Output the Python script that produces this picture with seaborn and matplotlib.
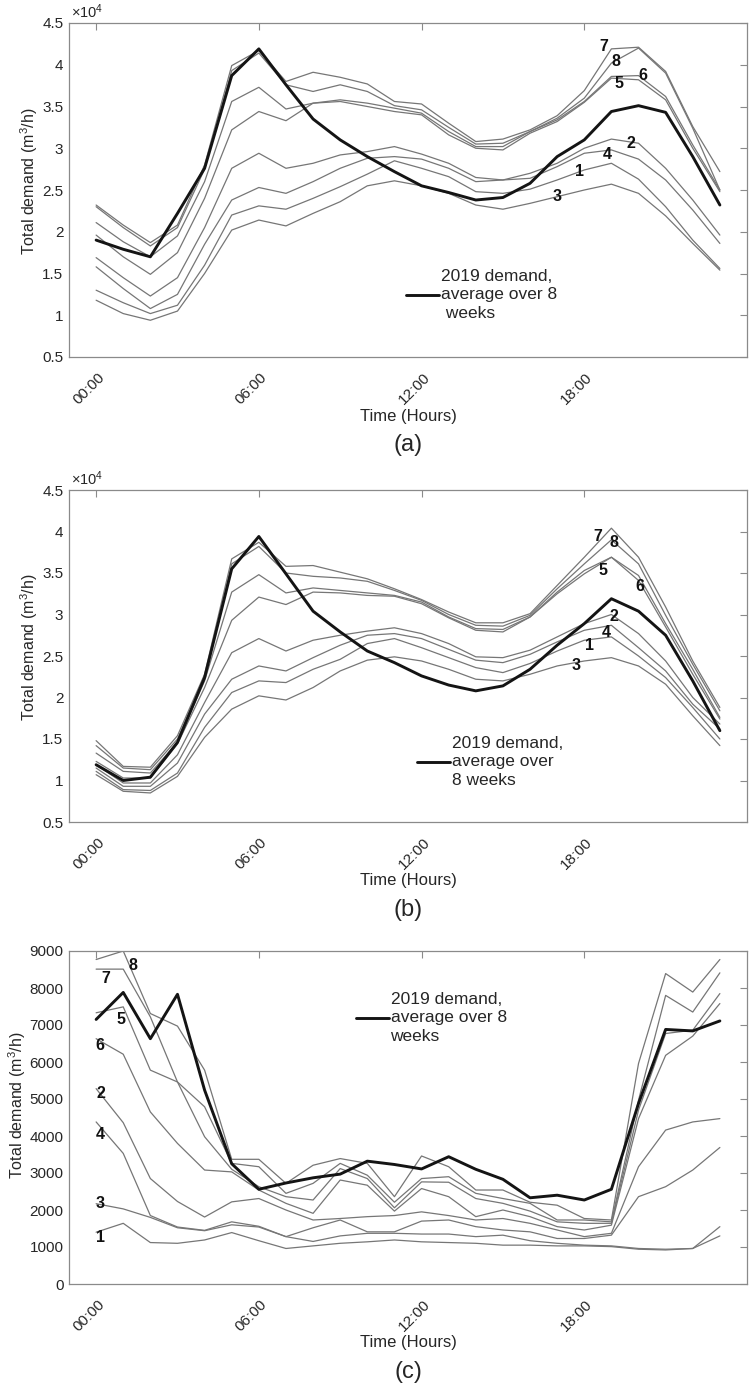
import matplotlib
matplotlib.use("Agg")
import matplotlib.pyplot as plt
import matplotlib.transforms as mtransforms
from matplotlib.ticker import FuncFormatter
import numpy as np
import pandas as pd
import seaborn as sns

# ---------------- data ----------------
hours = list(range(24))
hour_ticks = [0, 6, 12, 18]
hour_tick_labels = ["00:00", "06:00", "12:00", "18:00"]

# Panel (a), m3/h
a_w7 = [23200, 20800, 18700, 20800, 28000, 39900, 41700, 38000, 39100, 38500, 37700, 35600, 35300, 33000, 30800, 31100, 32200, 33900, 36900, 41900, 42100, 39200, 32600, 27200]
a_w8 = [23000, 20500, 18300, 20500, 27500, 39300, 41400, 37600, 36800, 37600, 36800, 35100, 34600, 32500, 30500, 30600, 32000, 33600, 36000, 40200, 42000, 39000, 32400, 25000]
a_w6 = [21100, 18800, 17000, 19500, 26000, 35600, 37300, 34700, 35400, 35800, 35400, 34800, 34200, 32000, 30200, 30200, 32000, 33400, 35600, 38600, 38700, 36200, 30400, 25000]
a_w5 = [19600, 17000, 14900, 17500, 24000, 32200, 34400, 33300, 35400, 35600, 35000, 34400, 34000, 31600, 30000, 29800, 31800, 33200, 35500, 38400, 38200, 35800, 30000, 24800]
a_w2 = [16900, 14500, 12300, 14500, 20500, 27600, 29400, 27600, 28200, 29200, 29600, 30200, 29300, 28200, 26500, 26200, 27000, 28200, 30000, 31100, 30600, 27600, 23800, 19600]
a_w4 = [15800, 13200, 10800, 12500, 18500, 23800, 25300, 24600, 26000, 27600, 28800, 29000, 28700, 27600, 26000, 26200, 26400, 27800, 29400, 29800, 28700, 26200, 22600, 18600]
a_w1 = [13000, 11500, 10200, 11200, 16000, 22000, 23100, 22700, 24000, 25400, 26900, 28500, 27600, 26600, 24800, 24600, 25100, 26200, 27400, 28200, 26300, 23000, 19000, 15600]
a_w3 = [11800, 10200, 9400, 10500, 15000, 20200, 21400, 20700, 22200, 23600, 25500, 26100, 25500, 24600, 23200, 22700, 23400, 24200, 25000, 25700, 24600, 21900, 18600, 15400]
a_avg = [19000, 17900, 17000, 22200, 27600, 38700, 41900, 37600, 33500, 31000, 29000, 27200, 25500, 24700, 23800, 24100, 25800, 29000, 31000, 34400, 35100, 34300, 29000, 23200]

# Panel (b), m3/h
b_w7 = [14800, 11700, 11600, 15400, 22800, 36700, 38700, 35800, 35900, 35100, 34300, 33100, 31800, 30300, 29000, 29000, 30100, 33500, 36900, 40400, 36900, 30900, 24400, 18800]
b_w8 = [14200, 11500, 11300, 15000, 22400, 36100, 38200, 35000, 34600, 34400, 34000, 32900, 31700, 30000, 28700, 28600, 29900, 33100, 36100, 39000, 36100, 29900, 24000, 18400]
b_w5 = [13300, 11100, 10900, 14600, 22000, 32700, 34800, 32600, 33200, 32900, 32600, 32300, 31500, 29700, 28300, 28200, 29700, 32700, 35300, 36900, 34700, 28900, 23400, 17600]
b_w6 = [12300, 10300, 10300, 14400, 21200, 29300, 32100, 31200, 32700, 32600, 32300, 32200, 31300, 29600, 28100, 27900, 29700, 32500, 34900, 36900, 34100, 28500, 22800, 17400]
b_w2 = [11900, 9700, 9700, 13100, 19400, 25400, 27100, 25600, 26900, 27500, 28000, 28400, 27700, 26500, 24900, 24800, 25700, 27300, 28900, 30000, 27700, 24400, 20000, 16800]
b_w4 = [11500, 9300, 9300, 12100, 18000, 22200, 23800, 23200, 24800, 26300, 27500, 27700, 27100, 25800, 24500, 24200, 25200, 26700, 28100, 28700, 26000, 23200, 19200, 16200]
b_w1 = [11100, 8900, 8800, 10900, 16400, 20600, 22000, 21800, 23400, 24600, 26500, 27100, 26000, 24800, 23600, 23000, 24100, 25600, 26900, 27300, 25000, 22400, 18800, 15000]
b_w3 = [10700, 8700, 8500, 10500, 15200, 18600, 20200, 19700, 21200, 23200, 24500, 24900, 24400, 23400, 22200, 22000, 22800, 23800, 24400, 24800, 23800, 21600, 17800, 14200]
b_avg = [11900, 10000, 10400, 14600, 22400, 35500, 39400, 34900, 30400, 27900, 25600, 24200, 22600, 21500, 20800, 21400, 23400, 26300, 28900, 31900, 30400, 27500, 22000, 16000]

# Panel (c), m3/h
c_w8 = [8770, 9000, 7310, 6970, 5780, 3370, 3370, 2720, 3210, 3390, 3260, 2360, 3460, 3170, 2540, 2540, 2210, 2130, 1770, 1730, 5960, 8390, 7890, 8770]
c_w7 = [8510, 8510, 7220, 5460, 4790, 3260, 3170, 2450, 2720, 3260, 2940, 2210, 2850, 2900, 2450, 2310, 2180, 1730, 1730, 1680, 4970, 7800, 7350, 8410]
c_w5 = [7330, 7490, 5780, 5460, 3980, 3100, 2630, 2360, 2270, 3120, 2850, 2060, 2760, 2750, 2310, 2180, 1970, 1680, 1640, 1640, 4700, 6770, 6860, 7850]
c_w6 = [6630, 6210, 4650, 3800, 3080, 3030, 2540, 2180, 1910, 2810, 2670, 1970, 2580, 2360, 1820, 2000, 1820, 1550, 1460, 1590, 4470, 6180, 6700, 7580]
c_w2 = [5280, 4360, 2850, 2230, 1810, 2220, 2310, 2000, 1730, 1770, 1820, 1850, 1950, 1850, 1730, 1770, 1640, 1460, 1280, 1370, 3170, 4160, 4380, 4470]
c_w4 = [4380, 3530, 1850, 1540, 1450, 1680, 1560, 1280, 1520, 1730, 1410, 1410, 1700, 1730, 1550, 1460, 1410, 1230, 1230, 1320, 2360, 2630, 3080, 3690]
c_w3 = [2170, 2030, 1800, 1520, 1440, 1600, 1540, 1280, 1150, 1300, 1370, 1370, 1350, 1350, 1280, 1320, 1170, 1100, 1050, 1030, 960, 940, 960, 1550]
c_w1 = [1400, 1640, 1120, 1100, 1190, 1390, 1170, 960, 1030, 1100, 1140, 1190, 1140, 1120, 1100, 1050, 1050, 1030, 1030, 1010, 940, 920, 960, 1300]
c_avg = [7150, 7880, 6630, 7830, 5240, 3250, 2560, 2730, 2870, 2970, 3320, 3230, 3110, 3440, 3100, 2830, 2330, 2400, 2270, 2560, 4880, 6880, 6840, 7110]

a_weeks = {1: a_w1, 2: a_w2, 3: a_w3, 4: a_w4, 5: a_w5, 6: a_w6, 7: a_w7, 8: a_w8}
b_weeks = {1: b_w1, 2: b_w2, 3: b_w3, 4: b_w4, 5: b_w5, 6: b_w6, 7: b_w7, 8: b_w8}
c_weeks = {1: c_w1, 2: c_w2, 3: c_w3, 4: c_w4, 5: c_w5, 6: c_w6, 7: c_w7, 8: c_w8}

a_yticks = [5000, 10000, 15000, 20000, 25000, 30000, 35000, 40000, 45000]
c_yticks = [0, 1000, 2000, 3000, 4000, 5000, 6000, 7000, 8000, 9000]

a_legend = "2019 demand,\naverage over 8\n weeks"
b_legend = "2019 demand,\naverage over\n8 weeks"
c_legend = "2019 demand,\naverage over 8\nweeks"

# week label anchors: week -> (hour index on that week's line, dx px, dy px)
a_labels = {7: (19, -8, 2), 8: (19, 5, 2), 5: (19, 8, -5), 6: (20, 4, 0),
            2: (20, -8, 0), 4: (19, -4, -5), 1: (18, -5, -2), 3: (17, 0, 0)}
b_labels = {7: (19, -14, -8), 8: (19, 3, -3), 5: (19, -8, -13), 6: (20, 1, -6),
            2: (19, 3, -2), 4: (19, -5, -7), 1: (18, 5, -5), 3: (18, -8, -5)}
c_labels = {8: (1, 10, -15), 7: (0, 10, -9), 5: (1, -2, -13), 6: (0, 4, -7),
            2: (0, 5, -5), 4: (0, 4, -13), 3: (0, 4, 0), 1: (0, 4, -5)}

# ---------------- style ----------------
sns.set_theme(style="white")
plt.rcParams["font.family"] = ["Liberation Sans", "DejaVu Sans"]
plt.rcParams["mathtext.fontset"] = "custom"
plt.rcParams["mathtext.rm"] = "Liberation Sans"
plt.rcParams["mathtext.it"] = "Liberation Sans:italic"
plt.rcParams["mathtext.bf"] = "Liberation Sans:bold"

THIN = "#767676"
THICK = "#141414"
SPINE = "#8a8a8a"
TXT = "#262626"

W, H = 750, 1392
fig = plt.figure(figsize=(W / 100, H / 100), dpi=100)
fig.patch.set_facecolor("white")

# axes boxes in pixels: (left, top, right, bottom)
boxes = [(69, 23, 747, 357), (69, 490, 747, 822), (69, 951, 747, 1284)]

panels = [
    dict(weeks=a_weeks, avg=a_avg, ylim=(5000, 45000), yticks=a_yticks, sci=True,
         legend=a_legend, leg_xy=(0.497, 0.186), labels=a_labels, letter="(a)",
         ylab_xy=(-0.043, 0.527)),
    dict(weeks=b_weeks, avg=b_avg, ylim=(5000, 45000), yticks=a_yticks, sci=True,
         legend=b_legend, leg_xy=(0.513, 0.181), labels=b_labels, letter="(b)",
         ylab_xy=(-0.043, 0.527)),
    dict(weeks=c_weeks, avg=c_avg, ylim=(0, 9000), yticks=c_yticks, sci=False,
         legend=c_legend, leg_xy=(0.423, 0.80), labels=c_labels, letter="(c)",
         ylab_xy=(-0.061, 0.536)),
]

for (l, t, r, b), p in zip(boxes, panels):
    ax = fig.add_axes([l / W, 1 - b / H, (r - l) / W, (b - t) / H])
    ax.set_facecolor("white")

    rows = []
    for wk, vals in p["weeks"].items():
        for hh, v in zip(hours, vals):
            rows.append((wk, hh, v))
    df = pd.DataFrame(rows, columns=["week", "hour", "demand"])
    sns.lineplot(data=df, x="hour", y="demand", units="week", estimator=None,
                 color=THIN, linewidth=0.9, ax=ax, legend=False)
    avg_df = pd.DataFrame({"hour": hours, "demand": p["avg"]})
    sns.lineplot(data=avg_df, x="hour", y="demand", color=THICK, linewidth=2.1,
                 ax=ax, label=p["legend"], zorder=5)

    ax.set_xlim(-1, 24)
    ax.set_ylim(*p["ylim"])
    ax.set_xticks(hour_ticks)
    ax.set_xticklabels(hour_tick_labels, rotation=45, ha="right", va="center",
                       rotation_mode="anchor")
    ax.set_yticks(p["yticks"])
    if p["sci"]:
        ax.yaxis.set_major_formatter(FuncFormatter(lambda v, pos: f"{v / 1e4:g}"))
        ax.text(0.003, 1.0 + 2 / (b - t), r"$\times10^{4}$", transform=ax.transAxes,
                ha="left", va="bottom", fontsize=10.5, color=TXT)
    for sp in ax.spines.values():
        sp.set_visible(True)
        sp.set_color(SPINE)
        sp.set_linewidth(0.9)
    ax.tick_params(axis="both", direction="in", length=5, width=0.8, color=SPINE,
                   top=True, right=True, labelsize=11, labelcolor=TXT)
    ax.tick_params(axis="y", pad=4)
    ax.tick_params(axis="x", pad=13)
    offset = mtransforms.ScaledTranslation(6 / 100, 0, fig.dpi_scale_trans)
    for lab in ax.get_xticklabels():
        lab.set_transform(lab.get_transform() + offset)

    ax.set_xlabel("")
    ax.set_ylabel("Total demand (m$^{3}$/h)", fontsize=11.5, color=TXT)
    ax.yaxis.set_label_coords(*p["ylab_xy"])

    # week labels
    for wk, (hi, dx, dy) in p["labels"].items():
        ax.annotate(str(wk), xy=(hours[hi], p["weeks"][wk][hi]), xytext=(dx, dy),
                    textcoords="offset pixels", ha="center", va="center",
                    fontsize=11.5, fontweight="bold", color="#111111", zorder=6)

    handles, labels = ax.get_legend_handles_labels()
    leg = ax.legend(handles, labels, loc="center left", bbox_to_anchor=p["leg_xy"],
                    frameon=False, fontsize=12.5, handlelength=1.9, handletextpad=0.1,
                    borderaxespad=0, borderpad=0)
    for txt in leg.get_texts():
        txt.set_color(TXT)
        txt.set_linespacing(1.3)

    fig.text(((l + r) / 2) / W, 1 - (b + 59) / H, "Time (Hours)", ha="center",
             va="center", fontsize=12, color=TXT)
    fig.text(((l + r) / 2) / W, 1 - (b + 88) / H, p["letter"], ha="center",
             va="center", fontsize=17, color=TXT)

fig.savefig("out.png", dpi=100, facecolor="white")
